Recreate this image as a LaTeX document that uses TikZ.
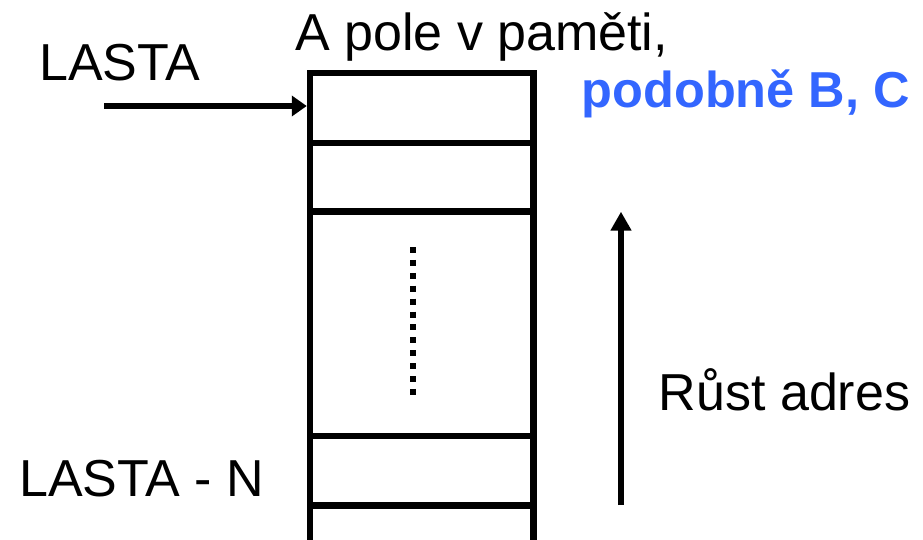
\documentclass[tikz,border=0pt]{standalone}
\usepackage{fontspec}
\setmainfont{Liberation Sans}
\usetikzlibrary{arrows.meta}
\definecolor{accentblue}{RGB}{51,102,255}
\begin{document}
\begin{tikzpicture}[x=1pt,y=-1pt,
  cellbox/.style={draw,line width=6.5pt,line join=miter,inner sep=0pt,
    minimum width=223.7pt,rectangle},
  label/.style={anchor=base west,inner sep=0pt,font=\fontsize{52}{60}\selectfont},
  bluelabel/.style={anchor=base west,inner sep=0pt,text=accentblue,
    font=\fontsize{50.5}{56}\selectfont\bfseries},
  pointer/.style={line width=6.5pt,-{Triangle[length=15pt,width=20pt]}},
  growth/.style={line width=6.5pt,-{Triangle[length=19pt,width=20pt]}}]
  \useasboundingbox (0,0) rectangle (923,539);

  % memory array cells
  \node[cellbox,minimum height=69.8pt] (c1) at (421.85,107.9) {};
  \node[cellbox,minimum height=68.5pt] (c2) at (421.85,177.05) {};
  \node[cellbox,minimum height=224.9pt] (cmid) at (421.85,323.75) {};
  \node[cellbox,minimum height=69.1pt] (cn) at (421.85,470.75) {};
  \node[cellbox,minimum height=60pt] (clast) at (421.85,535.3) {};

  % elided cells
  \draw[line width=6pt,dash pattern=on 6pt off 6.9pt] (413,247) -- (413,395);

  % labels
  \node[label] (lasta) at (39,80.7) {LASTA};
  \node[label] (title) at (295,50) {A pole v paměti,};
  \node[bluelabel] (same) at (581.5,107) {podobně B, C};
  \node[label] (grow) at (658.6,410) {Růst adres};
  \node[label] (lastan) at (19,496.7) {LASTA - N};

  % pointer to the first cell
  \coordinate (ptrStart) at (104,106);
  \draw[pointer] (ptrStart) -- (ptrStart -| c1.west);

  % direction of growing addresses
  \coordinate (growLo) at (621,505);
  \coordinate (growHi) at (621,211.7);
  \draw[growth] (growLo) -- (growHi);
\end{tikzpicture}
\end{document}
